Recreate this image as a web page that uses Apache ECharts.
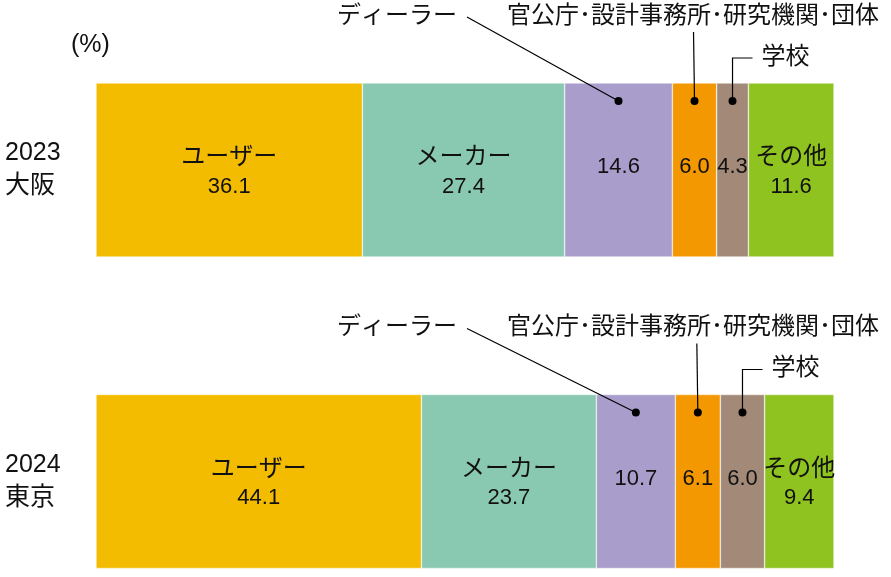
<!DOCTYPE html>
<html>
<head>
<meta charset="utf-8">
<script src="https://cdn.jsdelivr.net/npm/echarts@6/dist/echarts.min.js"></script>
<style>
html,body{margin:0;padding:0;background:#fff;}
#chart{width:891px;height:577px;}
</style>
</head>
<body>
<div id="chart"></div>
<script>
// ---- data ----
const categories = ['2023\n大阪', '2024\n東京'];
const seriesNames = ['ユーザー', 'メーカー', 'ディーラー', '官公庁･設計事務所･研究機関･団体', '学校', 'その他'];
const userVals   = [36.1, 44.1];
const makerVals  = [27.4, 23.7];
const dealerVals = [14.6, 10.7];
const govVals    = [6.0, 6.1];
const schoolVals = [4.3, 6.0];
const otherVals  = [11.6, 9.4];
const unitLabel = '(%)';

// ---- styling ----
const values = [userVals, makerVals, dealerVals, govVals, schoolVals, otherVals];
const colors = ['#F3BC00', '#89C9B1', '#A99ECB', '#F39800', '#A38A78', '#8FC320'];
const showNameInside = [true, true, false, false, false, true];
const calloutSeries = [2, 3, 4]; // segments labelled above with leader lines
const FONT = "'Liberation Sans','Noto Sans CJK JP',sans-serif";
const BAR_W = 174;

// callout data: centre of each called-out segment, per category
const calloutData = [];
categories.forEach((c, ci) => {
  calloutSeries.forEach(si => {
    let start = 0;
    for (let k = 0; k < si; k++) start += values[k][ci];
    calloutData.push([start + values[si][ci] / 2, ci, si]);
  });
});

const series = seriesNames.map((name, si) => ({
  name: name,
  type: 'bar',
  stack: 'total',
  barWidth: BAR_W,
  data: values[si],
  itemStyle: { color: colors[si], borderColor: 'rgba(255,255,255,0.7)', borderWidth: 0.6 },
  label: {
    show: true,
    position: 'inside',
    color: '#111',
    fontFamily: FONT,
    offset: showNameInside[si] ? [0, 2] : [0, -3],
    formatter: p => showNameInside[si] ? '{n|' + name + '}\n{v|' + p.value.toFixed(1) + '}' : '{v|' + p.value.toFixed(1) + '}',
    rich: {
      n: { fontFamily: FONT, fontSize: 24, lineHeight: 29, color: '#111' },
      v: { fontFamily: FONT, fontSize: 22, lineHeight: 29, color: '#111' }
    }
  },
  emphasis: { disabled: true },
  silent: true
}));

series.push({
  type: 'custom',
  coordinateSystem: 'cartesian2d',
  data: calloutData,
  encode: { x: 0, y: 1 },
  clip: false,
  silent: true,
  z: 10,
  renderItem: function (params, api) {
    const p = api.coord([api.value(0), api.value(1)]);
    const si = api.value(2);
    const top = p[1] - BAR_W / 2;
    const dot = [p[0], top + 18];
    const lineStyle = { stroke: '#000', lineWidth: 1.2, fill: null };
    const textStyle = (txt, x, y, align) => ({
      type: 'text',
      style: { text: txt, x: x, y: y, align: align, verticalAlign: 'middle',
               fill: '#111', font: '24px ' + FONT }
    });
    const children = [{ type: 'circle', shape: { cx: dot[0], cy: dot[1], r: 4 }, style: { fill: '#000' } }];
    if (si === 2) {
      children.push({ type: 'polyline', shape: { points: [[467, top - 66], dot] }, style: lineStyle });
      children.push(textStyle(seriesNames[si], 457, top - 67, 'right'));
    } else if (si === 3) {
      children.push({ type: 'polyline', shape: { points: [[dot[0] - 1, top - 51], dot] }, style: lineStyle });
      children.push(textStyle(seriesNames[si], 507, top - 67, 'left'));
    } else if (si === 4) {
      children.push({ type: 'polyline', shape: { points: [[dot[0] + 20, top - 25], [dot[0], top - 25], dot] }, style: lineStyle });
      children.push(textStyle(seriesNames[si], dot[0] + 29, top - 26, 'left'));
    }
    return { type: 'group', children: children };
  }
});

const chart = echarts.init(document.getElementById('chart'), null, { renderer: 'canvas' });
chart.setOption({
  animation: false,
  backgroundColor: '#fff',
  title: {
    text: unitLabel, left: 66, top: 28,
    textStyle: { fontFamily: FONT, fontSize: 25, fontWeight: 'normal', color: '#111' }
  },
  grid: { left: 96, top: 14.25, width: 738, height: 623, outerBoundsMode: 'none', containLabel: false },
  xAxis: { type: 'value', min: 0, max: 100, show: false },
  yAxis: {
    type: 'category', data: categories, inverse: true,
    axisLine: { show: false }, axisTick: { show: false }, splitLine: { show: false },
    axisLabel: {
      align: 'left', margin: 91, color: '#111',
      fontFamily: FONT, fontSize: 25, lineHeight: 33
    }
  },
  series: series
});
</script>
</body>
</html>
